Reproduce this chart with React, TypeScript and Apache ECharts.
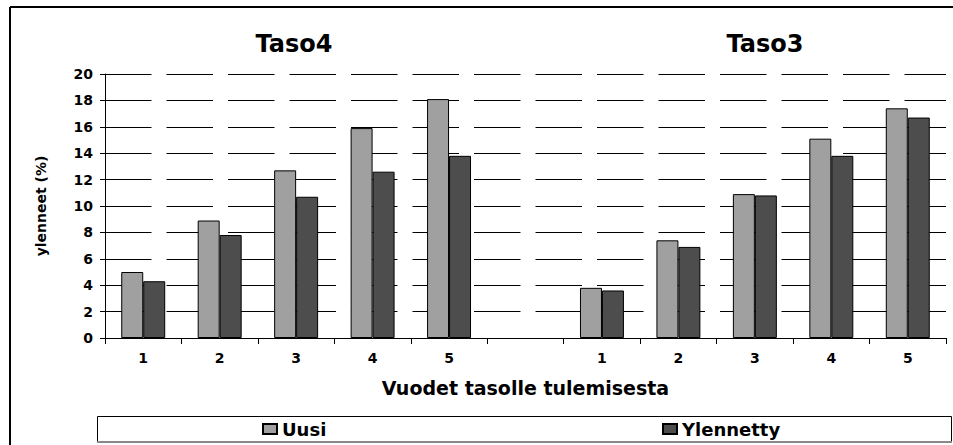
import React, { useEffect, useRef } from "react";
import * as echarts from "echarts";

const categories = ["1", "2", "3", "4", "5", "", "1", "2", "3", "4", "5"];
const uusi = [5.0, 8.9, 12.7, 15.9, 18.1, null, 3.8, 7.4, 10.9, 15.1, 17.4];
const ylennetty = [4.3, 7.8, 10.7, 12.6, 13.8, null, 3.6, 6.9, 10.8, 13.8, 16.7];
const groupTitles = ["Taso4", "Taso3"];
const yTicks = { min: 0, max: 20, interval: 2 };

const FONT = "DejaVu Sans";

export default function App() {
  const ref = useRef<HTMLDivElement>(null);
  useEffect(() => {
    if (!ref.current) return;
    const chart = echarts.init(ref.current, null, { renderer: "svg" });
    chart.setOption({
      animation: false,
      backgroundColor: "#fff",
      title: [
        {
          text: groupTitles[0],
          left: 289,
          top: 27,
          textAlign: "center",
          textStyle: { fontFamily: FONT, fontWeight: "bold", fontSize: 24, color: "#000" },
        },
        {
          text: groupTitles[1],
          left: 760,
          top: 27,
          textAlign: "center",
          textStyle: { fontFamily: FONT, fontWeight: "bold", fontSize: 24, color: "#000" },
        },
      ],
      graphic: [
        {
          type: "line",
          shape: { x1: 10, y1: 7, x2: 953, y2: 7 },
          style: { stroke: "#000", lineWidth: 2 },
          silent: true,
        },
        {
          type: "line",
          shape: { x1: 10, y1: 7, x2: 10, y2: 445 },
          style: { stroke: "#000", lineWidth: 2 },
          silent: true,
        },
        {
          type: "rect",
          shape: { x: 97.5, y: 416.5, width: 854, height: 25 },
          style: { fill: "#fff", stroke: "#000", lineWidth: 1 },
          silent: true,
          z: -1,
        },
        {
          type: "line",
          shape: { x1: 97, y1: 442, x2: 952, y2: 442 },
          style: { stroke: "#888", lineWidth: 2 },
          silent: true,
        },
      ],
      legend: [
        {
          data: ["Uusi"],
          left: 262,
          top: 420,
          padding: 0,
          itemWidth: 14,
          itemHeight: 10,
          icon: "rect",
          textStyle: { fontFamily: FONT, fontWeight: "bold", fontSize: 18, color: "#000" },
        },
        {
          data: ["Ylennetty"],
          left: 662,
          top: 420,
          padding: 0,
          itemWidth: 14,
          itemHeight: 10,
          icon: "rect",
          textStyle: { fontFamily: FONT, fontWeight: "bold", fontSize: 18, color: "#000" },
        },
      ],
      grid: { left: 105, right: 7, top: 74, bottom: 107, containLabel: false },
      xAxis: {
        type: "category",
        data: categories,
        name: "Vuodet tasolle tulemisesta",
        nameLocation: "middle",
        nameGap: 40,
        nameTextStyle: { fontFamily: FONT, fontWeight: "bold", fontSize: 19, color: "#000" },
        axisLine: { lineStyle: { color: "#000", width: 1 } },
        axisTick: { show: true, length: 6, interval: 0, lineStyle: { color: "#000" } },
        axisLabel: {
          interval: 0,
          margin: 13,
          fontFamily: FONT,
          fontWeight: "bold",
          fontSize: 14,
          color: "#000",
        },
      },
      yAxis: {
        type: "value",
        min: yTicks.min,
        max: yTicks.max,
        interval: yTicks.interval,
        name: "ylenneet (%)",
        nameLocation: "middle",
        nameRotate: 90,
        nameGap: 57,
        nameTextStyle: { fontFamily: FONT, fontWeight: "bold", fontSize: 14, color: "#000" },
        axisLine: { show: true, lineStyle: { color: "#000", width: 1 } },
        axisTick: { show: true, length: 5, lineStyle: { color: "#000" } },
        axisLabel: {
          margin: 12,
          fontFamily: FONT,
          fontWeight: "bold",
          fontSize: 14,
          color: "#000",
        },
        splitLine: {
          show: true,
          lineStyle: { color: "#000", width: 1, type: [46.5, 15], dashOffset: 0 },
        },
      },
      series: [
        {
          name: "Uusi",
          type: "bar",
          data: uusi,
          barGap: "0%",
          barCategoryGap: "42.5%",
          itemStyle: { color: "#a0a0a0", borderColor: "#000", borderWidth: 1 },
        },
        {
          name: "Ylennetty",
          type: "bar",
          data: ylennetty,
          barGap: "0%",
          barCategoryGap: "42.5%",
          itemStyle: { color: "#4d4d4d", borderColor: "#000", borderWidth: 1 },
        },
      ],
    });
    return () => chart.dispose();
  }, []);
  return <div ref={ref} style={{ width: 953, height: 445, position: "absolute", left: 0, top: 0 }} />;
}
